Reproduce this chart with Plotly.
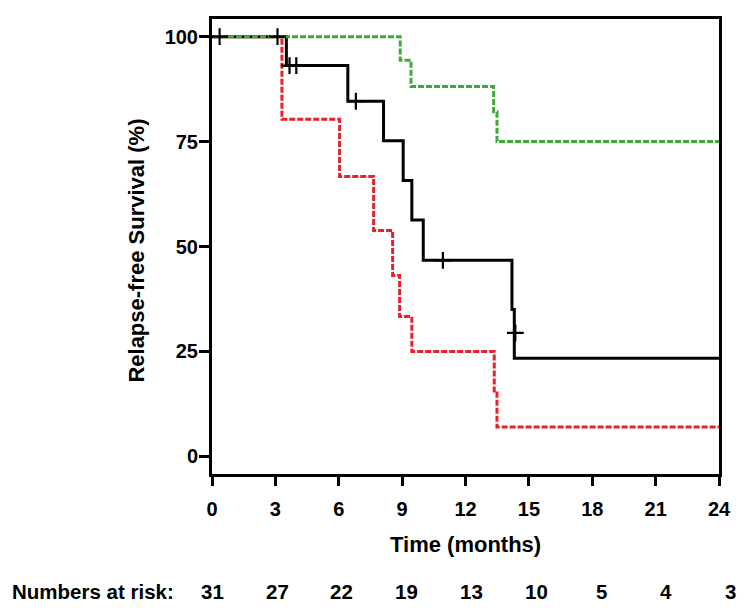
import plotly.graph_objects as go

# ---- data ----
black_times = [0, 3.52, 6.43, 8.12, 9.05, 9.46, 10.0, 14.2, 14.31, 24]
black_surv = [100, 93.1, 84.6, 75.2, 65.7, 56.3, 46.7, 35.0, 23.4, 23.4]
black_cens_times = [0.36, 3.1, 3.67, 3.99, 6.81, 10.93, 14.36]
black_cens_surv = [100, 100, 93.1, 93.1, 84.6, 46.7, 29.4]

red_times = [0, 3.31, 6.04, 7.65, 8.55, 8.88, 9.46, 13.36, 13.49, 24]
red_surv = [100, 80.3, 66.7, 53.8, 43.1, 33.3, 25.0, 15.1, 7.0, 7.0]

green_times = [0, 8.91, 9.42, 13.33, 13.49, 24]
green_surv = [100, 94.4, 88.1, 82.1, 75.0, 75.0]

x_ticks = [0, 3, 6, 9, 12, 15, 18, 21, 24]
y_ticks = [0, 25, 50, 75, 100]
risk_times = [0, 3, 6, 9, 12, 15, 18, 21, 24]
risk_counts = [31, 27, 22, 19, 13, 10, 5, 4, 3]

FONT = "Liberation Sans, Arial, sans-serif"
RED = "#E8212B"
GREEN = "#3BAA37"

fig = go.Figure()
fig.add_trace(go.Scatter(x=black_times, y=black_surv, mode="lines",
                         line=dict(color="black", width=3, shape="hv"),
                         showlegend=False))
fig.add_trace(go.Scatter(x=red_times, y=red_surv, mode="lines",
                         line=dict(color=RED, width=3, shape="hv", dash="6px,2px"),
                         showlegend=False))
fig.add_trace(go.Scatter(x=green_times, y=green_surv, mode="lines",
                         line=dict(color=GREEN, width=3, shape="hv", dash="6px,2px"),
                         showlegend=False))
fig.add_trace(go.Scatter(x=black_cens_times, y=black_cens_surv, mode="markers",
                         marker=dict(symbol="cross-thin", size=12,
                                     line=dict(color="black", width=2.2)),
                         showlegend=False, cliponaxis=False))

X_MIN, X_MAX = 0, 24
Y_MIN, Y_MAX = -4.2, 104.2

fig.update_xaxes(range=[X_MIN, X_MAX], tickvals=x_ticks,
                 ticktext=[str(v) for v in x_ticks],
                 showline=True, mirror=True, linecolor="black", linewidth=3,
                 ticks="outside", ticklen=9, tickwidth=3, tickcolor="black",
                 ticklabelstandoff=6,
                 showgrid=False, zeroline=False,
                 tickfont=dict(family=FONT, size=20, color="black", weight="bold"))
fig.update_yaxes(range=[Y_MIN, Y_MAX], tickvals=y_ticks,
                 ticktext=[str(v) for v in y_ticks],
                 showline=True, mirror=True, linecolor="black", linewidth=3,
                 ticks="outside", ticklen=10, tickwidth=3, tickcolor="black",
                 ticklabelstandoff=-3,
                 showgrid=False, zeroline=False,
                 tickfont=dict(family=FONT, size=20, color="black", weight="bold"))

annotations = [
    dict(text="<b>Time (months)</b>", xref="paper", yref="paper",
         x=0.5, y=-0.154, xanchor="center", yanchor="middle", showarrow=False,
         font=dict(family=FONT, size=22, color="black")),
    dict(text="<b>Relapse-free Survival (%)</b>", xref="paper", yref="paper",
         x=-0.149, y=0.492, xanchor="center", yanchor="middle", textangle=-90,
         showarrow=False, font=dict(family=FONT, size=22, color="black")),
    dict(text="<b>Numbers at risk:</b>", xref="paper", yref="paper",
         x=-0.398, y=-0.259, xanchor="left", yanchor="middle", showarrow=False,
         font=dict(family=FONT, size=20.5, color="black")),
]
spacing = 1.022
for t, n in zip(risk_times, risk_counts):
    annotations.append(dict(text=f"<b>{n}</b>", xref="paper", yref="paper",
                            x=(t * spacing + 0.02) / (X_MAX - X_MIN), y=-0.259,
                            xanchor="center", yanchor="middle", showarrow=False,
                            font=dict(family=FONT, size=20.5, color="black")))

fig.update_layout(width=745, height=616,
                  margin=dict(l=212, r=26, t=19, b=142, autoexpand=False),
                  paper_bgcolor="white", plot_bgcolor="white",
                  annotations=annotations)

fig.write_html("out.html",
               config={"displayModeBar": False},
               post_script="document.body.style.margin='0px';document.body.style.overflow='hidden';")
